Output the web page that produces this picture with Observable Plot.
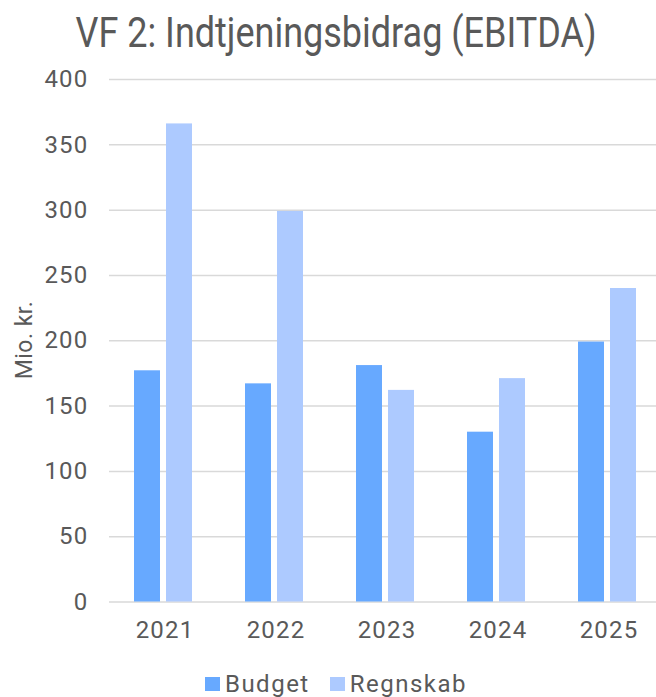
<!DOCTYPE html>
<html>
<head>
<meta charset="utf-8">
<script src="https://cdn.jsdelivr.net/npm/d3@7"></script>
<script src="https://cdn.jsdelivr.net/npm/@observablehq/plot@0.6"></script>
<style>
  html, body { margin: 0; padding: 0; background: #fff; overflow: hidden; }
  body { width: 656px; height: 697px; position: relative; font-family: Roboto, "Noto Sans", sans-serif; color: #595959; }
  #title { position: absolute; left: 16px; top: 12px; width: 640px; text-align: center; font-size: 42px; line-height: 1; white-space: nowrap; }
  #title span { display: inline-block; transform: scaleX(0.857); transform-origin: center; }
  #chart { position: absolute; left: 0; top: 0; }
  #ylabel { position: absolute; left: 24px; top: 340px; transform: translate(-50%, -50%) rotate(-90deg); font-size: 23px; letter-spacing: 0.5px; line-height: 1; white-space: nowrap; }
  #legend { position: absolute; top: 671.5px; left: 0; width: 672px; display: flex; justify-content: center; font-size: 24px; line-height: 1; letter-spacing: 1.5px; }
  .item { display: flex; align-items: center; margin: 0 10px; }
  .sw { width: 15px; height: 14px; margin-right: 5px; }
</style>
</head>
<body>
<div id="chart"></div>
<div id="title"><span>VF 2: Indtjeningsbidrag (EBITDA)</span></div>
<div id="ylabel">Mio. kr.</div>
<div id="legend"></div>
<script>
const years = ["2021", "2022", "2023", "2024", "2025"];
const seriesNames = ["Budget", "Regnskab"];
const budget = [177, 167, 181, 130, 199];
const regnskab = [366, 299, 162, 171, 240];
const yTicks = [0, 50, 100, 150, 200, 250, 300, 350, 400];
const colors = ["#67A9FF", "#ADCAFF"];

const data = [];
years.forEach((y, i) => {
  data.push({year: y, series: seriesNames[0], value: budget[i]});
  data.push({year: y, series: seriesNames[1], value: regnskab[i]});
});

const W = 656, H = 660, ML = 107;
const chart = Plot.plot({
  width: W,
  height: H,
  marginLeft: ML,
  marginRight: 0,
  marginTop: 79,
  marginBottom: 58.5,
  style: {fontFamily: "Roboto, 'Noto Sans', sans-serif", fontSize: "24px", letterSpacing: "1.2px", color: "#595959", background: "transparent"},
  fx: {domain: years, range: [ML, 666], padding: 0, axis: "bottom", tickSize: 0, tickPadding: 19, label: null},
  x: {domain: seriesNames, range: [ML + 25, ML + 83], paddingInner: 0.1875, paddingOuter: 0, axis: null},
  y: {domain: [0, 400], ticks: yTicks, tickSize: 0, tickPadding: 21, label: null, tickFormat: d => String(d)},
  color: {domain: seriesNames, range: colors},
  marks: [
    Plot.ruleY(yTicks, {stroke: "#d9d9d9", strokeWidth: 1.5}),
    Plot.barY(data, {fx: "year", x: "series", y: "value", fill: "series"})
  ]
});
document.getElementById("chart").appendChild(chart);

const legend = document.getElementById("legend");
seriesNames.forEach((s, i) => {
  const item = document.createElement("div");
  item.className = "item";
  const sw = document.createElement("div");
  sw.className = "sw";
  sw.style.background = colors[i];
  const t = document.createElement("span");
  t.textContent = s;
  item.appendChild(sw);
  item.appendChild(t);
  legend.appendChild(item);
});
</script>
</body>
</html>
